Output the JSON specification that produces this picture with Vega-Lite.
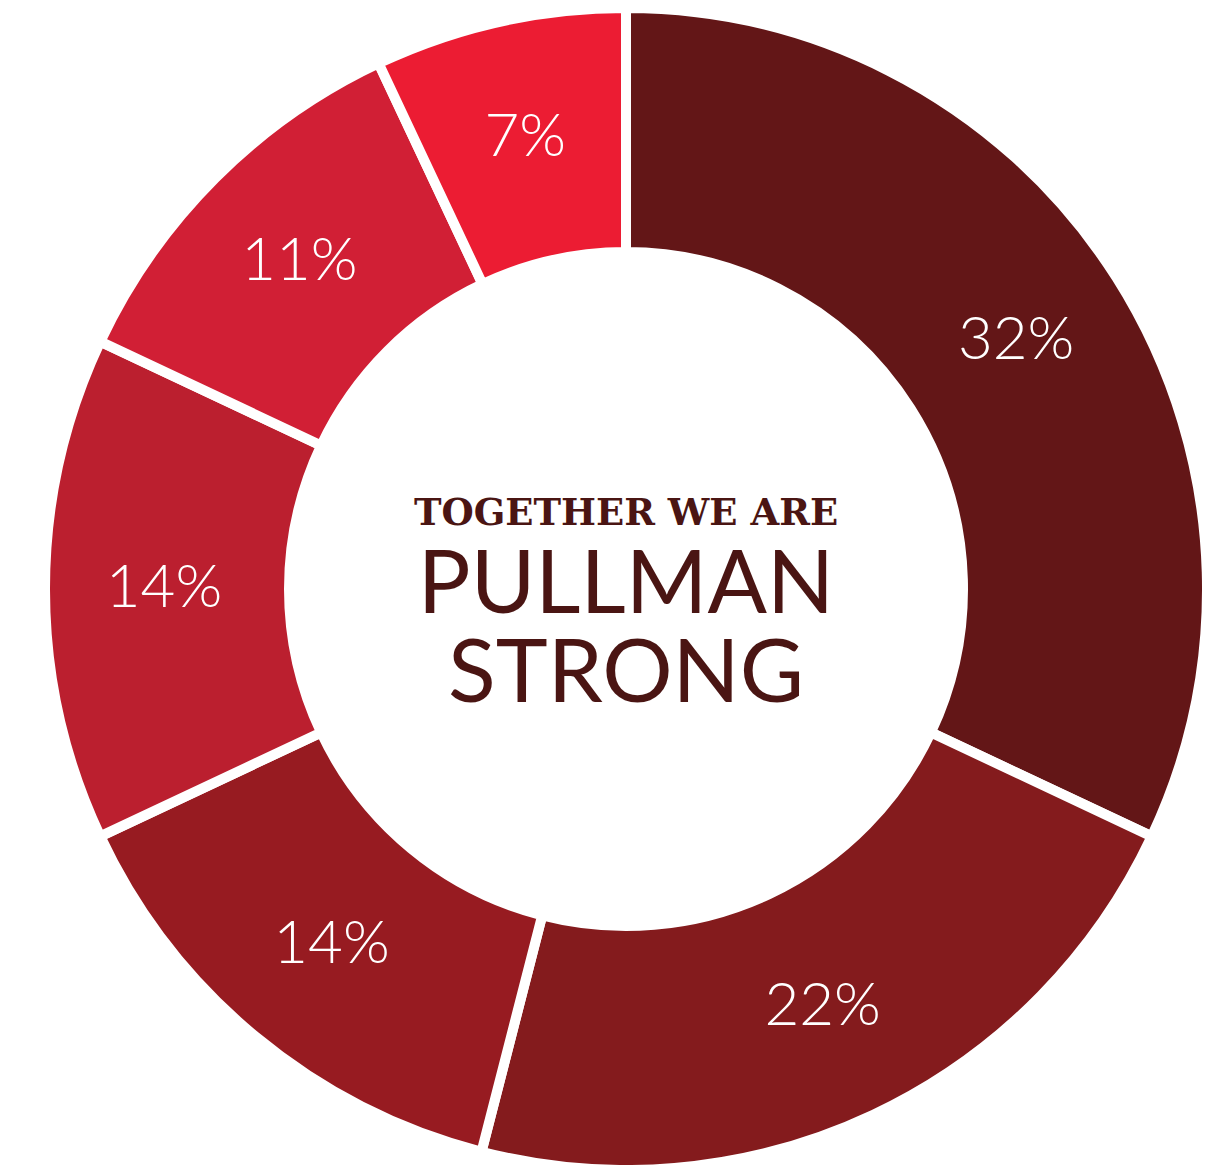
{
  "$schema": "https://vega.github.io/schema/vega-lite/v6.json",
  "width": 1231,
  "height": 1165,
  "autosize": {"type": "fit", "contains": "padding"},
  "padding": {"left": 21, "top": 13, "right": 0, "bottom": 0},
  "background": "white",
  "view": {"stroke": null},
  "datasets": {
    "slices": [
      {"cat": "a", "value": 32, "label": "32%", "idx": 1},
      {"cat": "b", "value": 22, "label": "22%", "idx": 2},
      {"cat": "c", "value": 14, "label": "14%", "idx": 3},
      {"cat": "d", "value": 14, "label": "14%", "idx": 4},
      {"cat": "e", "value": 11, "label": "11%", "idx": 5},
      {"cat": "f", "value": 7, "label": "7%", "idx": 6}
    ]
  },
  "layer": [
    {
      "data": {"name": "slices"},
      "mark": {"type": "arc", "outerRadius": 581, "innerRadius": 337, "stroke": "white", "strokeWidth": 10},
      "encoding": {
        "theta": {"field": "value", "type": "quantitative", "stack": true},
        "order": {"field": "idx", "type": "quantitative", "sort": "ascending"},
        "color": {
          "field": "cat",
          "type": "nominal",
          "scale": {"domain": ["a", "b", "c", "d", "e", "f"], "range": ["#631617", "#841b1d", "#971b21", "#bb1f2f", "#d11f35", "#ec1c33"]},
          "legend": null
        }
      }
    },
    {
      "data": {"name": "slices"},
      "mark": {"type": "text", "radius": 462, "font": "Lato", "fontWeight": 300, "fontSize": 60, "color": "white", "align": "center", "baseline": "middle"},
      "encoding": {
        "theta": {"field": "value", "type": "quantitative", "stack": true},
        "order": {"field": "idx", "type": "quantitative", "sort": "ascending"},
        "detail": {"field": "cat", "type": "nominal"},
        "text": {"field": "label", "type": "nominal"}
      }
    },
    {
      "data": {"values": [{"t": "TOGETHER WE ARE"}]},
      "mark": {"type": "text", "font": "DejaVu Serif", "fontWeight": "bold", "fontSize": 37, "color": "#4a1513", "align": "center", "baseline": "alphabetic", "dy": -64},
      "encoding": {"text": {"field": "t", "type": "nominal"}}
    },
    {
      "data": {"values": [{"t": "PULLMAN"}]},
      "mark": {"type": "text", "font": "Lato", "fontWeight": "normal", "fontSize": 88, "color": "#4a1513", "align": "center", "baseline": "alphabetic", "dy": 24},
      "encoding": {"text": {"field": "t", "type": "nominal"}}
    },
    {
      "data": {"values": [{"t": "STRONG"}]},
      "mark": {"type": "text", "font": "Lato", "fontWeight": "normal", "fontSize": 88, "color": "#4a1513", "align": "center", "baseline": "alphabetic", "dy": 113},
      "encoding": {"text": {"field": "t", "type": "nominal"}}
    }
  ]
}
